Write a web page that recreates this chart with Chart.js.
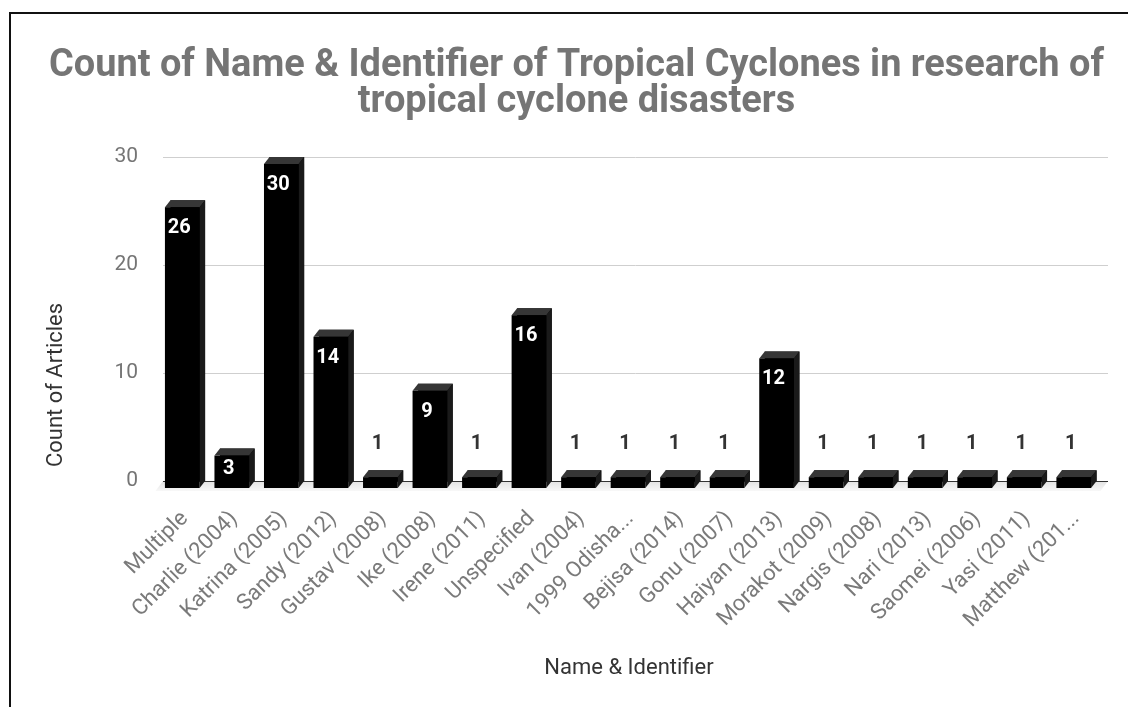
<!DOCTYPE html>
<html>
<head>
<meta charset="utf-8">
<script src="https://cdn.jsdelivr.net/npm/chart.js@4.4.1/dist/chart.umd.min.js"></script>
<style>
  html, body { margin: 0; padding: 0; background: #fff; }
  #wrap { position: relative; width: 1128px; height: 707px; overflow: hidden; }
  #wrap canvas { position: absolute; left: 0; top: 0; }
  #frame { position: absolute; left: 9px; top: 12px; right: -10px; bottom: -10px;
           border-left: 2px solid #111; border-top: 2px solid #111; pointer-events: none; }
</style>
</head>
<body>
<div id="wrap">
  <canvas id="chart" width="1128" height="707"></canvas>
  <div id="frame"></div>
</div>
<script>
// Cyclone names (as shown on the axis) and article counts
const categories = [
  'Multiple', 'Charlie (2004)', 'Katrina (2005)', 'Sandy (2012)', 'Gustav (2008)',
  'Ike (2008)', 'Irene (2011)', 'Unspecified', 'Ivan (2004)', '1999 Odisha...',
  'Bejisa (2014)', 'Gonu (2007)', 'Haiyan (2013)', 'Morakot (2009)', 'Nargis (2008)',
  'Nari (2013)', 'Saomei (2006)', 'Yasi (2011)', 'Matthew (201...'
];
const counts = [26, 3, 30, 14, 1, 9, 1, 16, 1, 1, 1, 1, 12, 1, 1, 1, 1, 1, 1];
const yTicks = [0, 10, 20, 30];
const titleLines = [
  'Count of Name & Identifier of Tropical Cyclones in research of',
  'tropical cyclone disasters'
];
const xTitle = 'Name & Identifier';
const yTitle = 'Count of Articles';

// depth of the extruded bars (front face sits left/below the back face)
const DEPTH_X = 5.5;
const DEPTH_Y = 7;
// gridlines run a little past the last category
const GRID_EXTRA = 4;

const FONT = 'Roboto';

// Gridlines, floor band, dark zero line, and axis titles
const floorPlugin = {
  id: 'floor',
  beforeDatasetsDraw(chart) {
    const { ctx, chartArea: a, scales } = chart;
    const y0 = scales.y.getPixelForValue(0);
    ctx.save();
    ctx.lineWidth = 1;
    ctx.strokeStyle = '#cfcfcf';
    yTicks.filter(v => v !== 0).forEach(v => {
      const py = Math.round(scales.y.getPixelForValue(v)) + 0.5;
      ctx.beginPath();
      ctx.moveTo(a.left, py);
      ctx.lineTo(a.right + GRID_EXTRA, py);
      ctx.stroke();
    });
    const g = ctx.createLinearGradient(0, y0, 0, y0 + DEPTH_Y + 3);
    g.addColorStop(0, '#e2e2e2');
    g.addColorStop(1, '#f8f8f8');
    ctx.fillStyle = g;
    ctx.beginPath();
    ctx.moveTo(a.left, y0);
    ctx.lineTo(a.right + GRID_EXTRA, y0);
    ctx.lineTo(a.right + GRID_EXTRA - DEPTH_X - 2, y0 + DEPTH_Y + 3);
    ctx.lineTo(a.left - DEPTH_X - 2, y0 + DEPTH_Y + 3);
    ctx.closePath();
    ctx.fill();
    ctx.strokeStyle = '#333';
    ctx.beginPath();
    ctx.moveTo(a.left, Math.round(y0) + 0.5);
    ctx.lineTo(a.right + GRID_EXTRA, Math.round(y0) + 0.5);
    ctx.stroke();
    ctx.restore();
  },
  afterDraw(chart) {
    const { ctx } = chart;
    ctx.save();
    ctx.fillStyle = '#333';
    ctx.font = '22px ' + FONT;
    ctx.textAlign = 'center';
    ctx.textBaseline = 'middle';
    ctx.fillText(xTitle, 629, 668);
    ctx.translate(56, 385);
    ctx.rotate(-Math.PI / 2);
    ctx.fillText(yTitle, 0, 0);
    ctx.restore();
  }
};

// Extruded faces and value labels, built from each bar element's geometry
const extrudePlugin = {
  id: 'extrude',
  afterDatasetsDraw(chart) {
    const { ctx } = chart;
    const meta = chart.getDatasetMeta(0);
    ctx.save();
    meta.data.forEach((bar, i) => {
      const { x, y, base, width } = bar.getProps(['x', 'y', 'base', 'width'], true);
      const L = x - width / 2, R = x + width / 2, T = y, B = base;
      // top face
      ctx.fillStyle = '#363636';
      ctx.beginPath();
      ctx.moveTo(L - DEPTH_X, T + DEPTH_Y);
      ctx.lineTo(R - DEPTH_X, T + DEPTH_Y);
      ctx.lineTo(R, T);
      ctx.lineTo(L, T);
      ctx.closePath();
      ctx.fill();
      // side face
      ctx.fillStyle = '#1a1a1a';
      ctx.beginPath();
      ctx.moveTo(R - DEPTH_X, T + DEPTH_Y);
      ctx.lineTo(R, T);
      ctx.lineTo(R, B);
      ctx.lineTo(R - DEPTH_X, B + DEPTH_Y);
      ctx.closePath();
      ctx.fill();
      // front face
      ctx.fillStyle = '#000';
      ctx.fillRect(L - DEPTH_X, T + DEPTH_Y, width, B - T);

      // value label
      const fTop = T + DEPTH_Y, fBot = B + DEPTH_Y;
      const lx = x - DEPTH_X - 3;
      ctx.font = 'bold 20px ' + FONT;
      ctx.textAlign = 'center';
      ctx.textBaseline = 'middle';
      if (fBot - fTop > 25) {
        ctx.fillStyle = '#fff';
        ctx.fillText(String(counts[i]), lx, Math.min(fTop + 21, (fTop + fBot) / 2 - 3));
      } else {
        ctx.fillStyle = '#333';
        ctx.fillText(String(counts[i]), lx, fTop - 33);
      }
    });
    ctx.restore();
  }
};

new Chart(document.getElementById('chart'), {
  type: 'bar',
  data: {
    labels: categories,
    datasets: [{
      data: counts,
      backgroundColor: '#000',
      borderWidth: 0,
      barPercentage: 0.7,
      categoryPercentage: 1
    }]
  },
  options: {
    responsive: false,
    animation: false,
    devicePixelRatio: 1,
    layout: { padding: { top: 20, left: 49, right: 24, bottom: 0 } },
    plugins: {
      legend: { display: false },
      tooltip: { enabled: false },
      title: {
        display: true,
        text: titleLines,
        color: '#757575',
        font: { family: FONT, size: 38, weight: 'bold', lineHeight: 0.95 },
        padding: { top: 28, bottom: 36.8 }
      }
    },
    scales: {
      x: {
        grid: { display: false },
        border: { display: false },
        ticks: {
          autoSkip: false,
          maxRotation: 45,
          minRotation: 45,
          color: '#7a7a7a',
          font: { family: FONT, size: 22 },
          padding: 17,
          labelOffset: -3
        },
        afterFit(scale) { scale.height = 226; }
      },
      y: {
        min: 0,
        max: 30,
        afterBuildTicks(scale) { scale.ticks = yTicks.map(v => ({ value: v })); },
        grid: { display: false, drawTicks: false },
        border: { display: false },
        ticks: {
          color: '#757575',
          font: { family: FONT, size: 21 },
          padding: 25
        },
        afterFit(scale) { scale.width = 114; }
      }
    }
  },
  plugins: [floorPlugin, extrudePlugin]
});
</script>
</body>
</html>
